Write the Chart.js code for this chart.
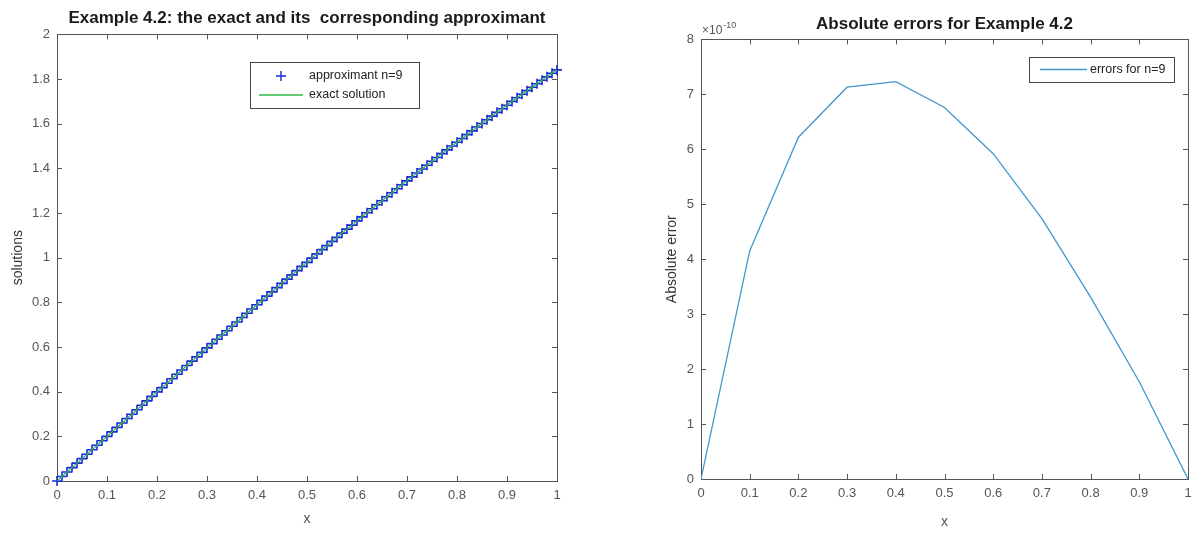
<!DOCTYPE html>
<html>
<head>
<meta charset="utf-8">
<script src="https://cdn.jsdelivr.net/npm/chart.js"></script>
<style>
  body { margin: 0; background: #fff; }
  #left { position: absolute; left: 0; top: 0; }
  #right { position: absolute; left: 600px; top: 0; }
</style>
</head>
<body>
<canvas id="left" width="600" height="536"></canvas>
<canvas id="right" width="595" height="536"></canvas>
<script>
// left panel: exact solution and approximant (n=9)
const solX = [0,0.01,0.02,0.03,0.04,0.05,0.06,0.07,0.08,0.09,
  0.1,0.11,0.12,0.13,0.14,0.15,0.16,0.17,0.18,0.19,
  0.2,0.21,0.22,0.23,0.24,0.25,0.26,0.27,0.28,0.29,
  0.3,0.31,0.32,0.33,0.34,0.35,0.36,0.37,0.38,0.39,
  0.4,0.41,0.42,0.43,0.44,0.45,0.46,0.47,0.48,0.49,
  0.5,0.51,0.52,0.53,0.54,0.55,0.56,0.57,0.58,0.59,
  0.6,0.61,0.62,0.63,0.64,0.65,0.66,0.67,0.68,0.69,
  0.7,0.71,0.72,0.73,0.74,0.75,0.76,0.77,0.78,0.79,
  0.8,0.81,0.82,0.83,0.84,0.85,0.86,0.87,0.88,0.89,
  0.9,0.91,0.92,0.93,0.94,0.95,0.96,0.97,0.98,0.99,1];
const exactY = [0,0.020,0.040,0.060,0.080,0.100,0.120,0.140,0.160,0.180,
  0.200,0.220,0.240,0.260,0.280,0.299,0.319,0.339,0.359,0.379,
  0.399,0.418,0.438,0.458,0.478,0.497,0.517,0.537,0.556,0.576,
  0.596,0.615,0.635,0.654,0.673,0.693,0.712,0.732,0.751,0.770,
  0.789,0.809,0.828,0.847,0.866,0.885,0.904,0.923,0.942,0.961,
  0.979,0.998,1.017,1.036,1.054,1.073,1.091,1.110,1.128,1.146,
  1.165,1.183,1.201,1.219,1.237,1.255,1.273,1.291,1.309,1.327,
  1.344,1.362,1.379,1.397,1.414,1.432,1.449,1.466,1.483,1.500,
  1.517,1.534,1.551,1.568,1.585,1.601,1.618,1.634,1.651,1.667,
  1.683,1.700,1.716,1.732,1.748,1.763,1.779,1.795,1.810,1.826,1.841];
const approxY = exactY; // differences are ~1e-10, not visible

// right panel: absolute errors (units of 1e-10)
const errX = [0,0.1,0.2,0.3,0.4,0.5,0.6,0.7,0.8,0.9,1];
const errY = [0,4.15,6.22,7.13,7.23,6.76,5.92,4.74,3.31,1.77,0];

// tick values
const xTicks = [0,0.1,0.2,0.3,0.4,0.5,0.6,0.7,0.8,0.9,1];
const solTicks = [0,0.2,0.4,0.6,0.8,1,1.2,1.4,1.6,1.8,2];
const errTicks = [0,1,2,3,4,5,6,7,8];

const FONT = '"Liberation Sans", Arial, sans-serif';
const AXIS = '#555';

function pts(xs, ys) {
  return xs.map((x, i) => ({ x: x, y: ys[i] }));
}
function fmt(v) {
  return String(+v.toFixed(2));
}

// box round the axes with inward ticks on every side
const frame = {
  id: 'frame',
  beforeDatasetsDraw(chart) {
    const ctx = chart.ctx;
    const a = chart.chartArea;
    const sx = chart.scales.x, sy = chart.scales.y;
    ctx.save();
    ctx.strokeStyle = AXIS;
    ctx.lineWidth = 1;
    ctx.strokeRect(Math.round(a.left) + 0.5, Math.round(a.top) + 0.5,
      Math.round(a.right - a.left), Math.round(a.bottom - a.top));
    ctx.beginPath();
    sx.ticks.forEach(t => {
      const p = Math.round(sx.getPixelForValue(t.value)) + 0.5;
      ctx.moveTo(p, a.bottom); ctx.lineTo(p, a.bottom - 5);
      ctx.moveTo(p, a.top); ctx.lineTo(p, a.top + 5);
    });
    sy.ticks.forEach(t => {
      const p = Math.round(sy.getPixelForValue(t.value)) + 0.5;
      ctx.moveTo(a.left, p); ctx.lineTo(a.left + 5, p);
      ctx.moveTo(a.right, p); ctx.lineTo(a.right - 5, p);
    });
    ctx.stroke();
    ctx.restore();
  }
};

// legend boxes placed like the MATLAB ones
const boxLegend = {
  id: 'boxLegend',
  afterDraw(chart, args, opts) {
    const ctx = chart.ctx;
    const b = opts.box;
    ctx.save();
    ctx.fillStyle = '#fff';
    ctx.fillRect(b[0], b[1], b[2], b[3]);
    ctx.strokeStyle = '#444';
    ctx.lineWidth = 1;
    ctx.strokeRect(b[0] + 0.5, b[1] + 0.5, b[2], b[3]);
    ctx.font = '12.5px ' + FONT;
    ctx.textBaseline = 'middle';
    opts.items.forEach(it => {
      if (it.kind === 'cross') {
        ctx.strokeStyle = it.color;
        ctx.lineWidth = 1.4;
        ctx.beginPath();
        ctx.moveTo(it.mx - 5, it.y); ctx.lineTo(it.mx + 5, it.y);
        ctx.moveTo(it.mx, it.y - 5); ctx.lineTo(it.mx, it.y + 5);
        ctx.stroke();
      } else {
        ctx.strokeStyle = it.color;
        ctx.lineWidth = it.width;
        ctx.beginPath();
        ctx.moveTo(it.l0, it.y); ctx.lineTo(it.l1, it.y);
        ctx.stroke();
      }
      ctx.fillStyle = '#222';
      ctx.fillText(it.text, it.tx, it.y);
    });
    if (opts.exponent) {
      ctx.fillStyle = AXIS;
      ctx.font = '12px ' + FONT;
      ctx.textBaseline = 'alphabetic';
      ctx.fillText('\u00d710', opts.exponent[0], opts.exponent[1]);
      const w = ctx.measureText('\u00d710').width;
      ctx.font = '9px ' + FONT;
      ctx.fillText('-10', opts.exponent[0] + w + 1, opts.exponent[1] - 6);
    }
    ctx.restore();
  }
};

function scalesFor(yMin, yMax, yTickVals, yWidth, yTitle, yTitlePad, xHeight, xTitlePad) {
  const tickFont = { family: FONT, size: 13 };
  const titleFont = { family: FONT, size: 14 };
  return {
    x: {
      type: 'linear', min: 0, max: 1,
      grid: { display: false, drawTicks: false }, border: { display: false },
      afterBuildTicks: s => { s.ticks = xTicks.map(v => ({ value: v })); },
      afterFit: s => { s.height = xHeight; s.paddingRight = 0; s.paddingLeft = 0; },
      ticks: { color: AXIS, font: tickFont, padding: 7, maxRotation: 0, autoSkip: false,
        callback: v => fmt(v) },
      title: { display: true, text: 'x', color: AXIS, font: titleFont,
        padding: { top: 0, bottom: xTitlePad } }
    },
    y: {
      type: 'linear', min: yMin, max: yMax,
      grid: { display: false, drawTicks: false }, border: { display: false },
      afterBuildTicks: s => { s.ticks = yTickVals.map(v => ({ value: v })); },
      afterFit: s => { s.width = yWidth; },
      ticks: { color: AXIS, font: tickFont, padding: 7, autoSkip: false,
        callback: v => fmt(v) },
      title: { display: true, text: yTitle, color: '#333', font: titleFont,
        padding: { top: yTitlePad, bottom: 0 } }
    }
  };
}

new Chart(document.getElementById('left'), {
  type: 'scatter',
  data: {
    datasets: [
      {
        label: 'approximant n=9',
        data: pts(solX, approxY),
        pointStyle: 'cross',
        pointRadius: 5,
        borderColor: '#1a2ad8',
        backgroundColor: '#1a2ad8',
        pointBorderWidth: 1.6,
        showLine: false,
        clip: false,
        order: 2
      },
      {
        label: 'exact solution',
        data: pts(solX, exactY),
        showLine: true,
        pointRadius: 0,
        borderColor: '#33bb44',
        borderWidth: 1.2,
        order: 1
      }
    ]
  },
  options: {
    responsive: false,
    animation: false,
    layout: { padding: { left: 0, right: 43, top: 0, bottom: 0 } },
    scales: scalesFor(0, 2, solTicks, 57, 'solutions', 10, 55, 8),
    plugins: {
      legend: { display: false },
      tooltip: { enabled: false },
      title: {
        display: true, fullSize: false,
        text: 'Example 4.2: the exact and its  corresponding approximant',
        color: '#1a1a1a', font: { family: FONT, size: 17, weight: 'bold' },
        padding: { top: 8, bottom: 6 }
      },
      boxLegend: {
        box: [250, 62, 169, 46],
        items: [
          { kind: 'cross', color: '#1a2ad8', mx: 281, y: 76, tx: 309, text: 'approximant n=9' },
          { kind: 'line', color: '#33bb44', width: 1.5, l0: 259, l1: 303, y: 95, tx: 309, text: 'exact solution' }
        ]
      }
    }
  },
  plugins: [frame, boxLegend]
});

new Chart(document.getElementById('right'), {
  type: 'scatter',
  data: {
    datasets: [
      {
        label: 'errors for n=9',
        data: pts(errX, errY),
        showLine: true,
        pointRadius: 0,
        borderColor: '#4297cc',
        borderWidth: 1.3
      }
    ]
  },
  options: {
    responsive: false,
    animation: false,
    layout: { padding: { left: 0, right: 7, top: 0, bottom: 0 } },
    scales: scalesFor(0, 8, errTicks, 101, 'Absolute error', 64, 57, 5),
    plugins: {
      legend: { display: false },
      tooltip: { enabled: false },
      title: {
        display: true, fullSize: false,
        text: 'Absolute errors for Example 4.2',
        color: '#1a1a1a', font: { family: FONT, size: 17, weight: 'bold' },
        padding: { top: 14, bottom: 5 }
      },
      boxLegend: {
        box: [429, 57, 145, 25],
        items: [
          { kind: 'line', color: '#4297cc', width: 1.3, l0: 440, l1: 487, y: 69.5, tx: 490, text: 'errors for n=9' }
        ],
        exponent: [102, 34]
      }
    }
  },
  plugins: [frame, boxLegend]
});
</script>
</body>
</html>
